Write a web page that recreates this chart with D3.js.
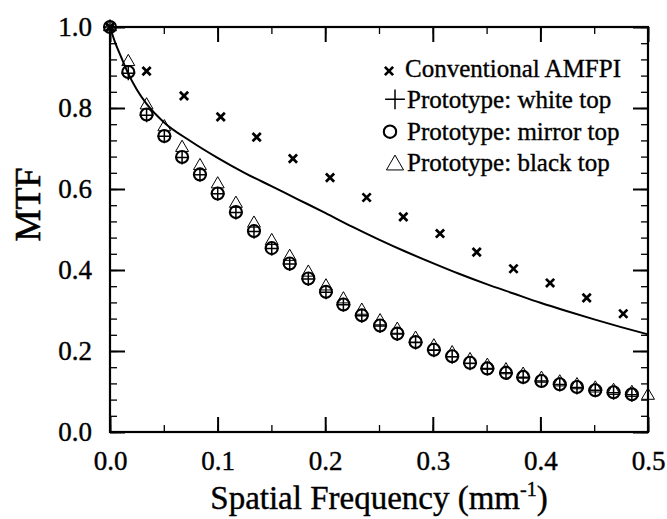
<!DOCTYPE html>
<html>
<head>
<meta charset="utf-8">
<script src="https://cdn.jsdelivr.net/npm/d3@7.9.0/dist/d3.min.js"></script>
<style>
  html, body { margin: 0; padding: 0; background: #fff; }
  svg { display: block; }
  svg text { font-family: "Liberation Serif", "DejaVu Serif", serif; }
</style>
</head>
<body>
<svg id="chart" width="667" height="519"></svg>
<script>
// conventional AMFPI (x markers)
const convFreq = [0, 0.034, 0.0688, 0.1029, 0.1363, 0.170, 0.2045, 0.2385, 0.2726, 0.3067, 0.3408, 0.375, 0.409, 0.443, 0.477];
const convMTF  = [1.0, 0.891, 0.830, 0.778, 0.728, 0.675, 0.628, 0.579, 0.531, 0.490, 0.444, 0.403, 0.368, 0.331, 0.292];

// prototype measurements share one frequency grid (black top has one more point at 0.5)
const protoFreq = [0, 0.017, 0.034, 0.0505, 0.067, 0.0836, 0.1001, 0.117, 0.1338, 0.1503,
                   0.167, 0.1843, 0.2007, 0.2169, 0.234, 0.251, 0.267, 0.284, 0.301, 0.318,
                   0.3346, 0.3507, 0.368, 0.384, 0.401, 0.418, 0.434, 0.451, 0.468, 0.485, 0.5];
const whiteMTF  = [1.0, 0.886, 0.782, 0.730, 0.678, 0.635, 0.588, 0.542, 0.495, 0.453,
                   0.415, 0.378, 0.345, 0.314, 0.287, 0.262, 0.242, 0.221, 0.202, 0.186,
                   0.170, 0.157, 0.146, 0.135, 0.126, 0.117, 0.110, 0.103, 0.097, 0.092];
const mirrorMTF = [1.0, 0.889, 0.784, 0.731, 0.679, 0.636, 0.589, 0.543, 0.496, 0.454,
                   0.416, 0.379, 0.346, 0.315, 0.288, 0.263, 0.243, 0.222, 0.203, 0.187,
                   0.171, 0.157, 0.146, 0.136, 0.126, 0.118, 0.111, 0.103, 0.098, 0.093];
const blackMTF  = [1.0, 0.914, 0.807, 0.753, 0.702, 0.657, 0.612, 0.564, 0.515, 0.472,
                   0.433, 0.394, 0.360, 0.328, 0.300, 0.274, 0.253, 0.231, 0.212, 0.195,
                   0.178, 0.164, 0.153, 0.142, 0.132, 0.123, 0.116, 0.108, 0.102, 0.097, 0.090];

// solid curve
const curveFreq = [0, 0.005, 0.01, 0.017, 0.025, 0.034, 0.05, 0.075, 0.1, 0.125, 0.15, 0.175, 0.2,
                   0.225, 0.25, 0.275, 0.3, 0.325, 0.35, 0.375, 0.4, 0.425, 0.45, 0.475, 0.5];
const curveMTF  = [1.0, 0.96, 0.928, 0.885, 0.845, 0.81, 0.765, 0.718, 0.677, 0.640, 0.607, 0.574, 0.541,
                   0.507, 0.475, 0.445, 0.417, 0.39, 0.365, 0.342, 0.319, 0.298, 0.278, 0.259, 0.241];

const xTicks = [0, 0.1, 0.2, 0.3, 0.4, 0.5];
const yTicks = [0, 0.2, 0.4, 0.6, 0.8, 1.0];
const legendLabels = ['Conventional AMFPI', 'Prototype: white top', 'Prototype: mirror top', 'Prototype: black top'];

const W = 667, H = 519;
const margin = { top: 27, right: 19, bottom: 87, left: 110 };
const serif = '"Liberation Serif", "DejaVu Serif", serif';
const svg = d3.select('#chart');

const x = d3.scaleLinear().domain([0, 0.5]).range([margin.left, W - margin.right]);
const y = d3.scaleLinear().domain([0, 1]).range([H - margin.bottom, margin.top]);

const fmt = d3.format('.1f');
const xMinor = d3.range(0, 0.5001, 0.05);
const yMinor = d3.range(0, 1.0001, 0.04);

// text in the original is a bit heavier than plain Liberation Serif
function heavy(sel, w) {
  return sel.attr('stroke', '#000').attr('stroke-width', w).attr('paint-order', 'stroke');
}

function styleAxis(g) {
  g.attr('font-family', serif).attr('font-size', 27);
  g.select('.domain').remove();
  g.selectAll('.tick line').attr('stroke', '#000').attr('stroke-width', 2);
  g.selectAll('.tick text')
    .attr('fill', '#000')
    .attr('font-size', 27)
    .call(heavy, 0.4);
}

// minor ticks, all four sides
svg.append('g').attr('transform', `translate(0,${y(0)})`)
  .call(d3.axisBottom(x).tickValues(xMinor).tickSize(-7).tickFormat(''))
  .call(styleAxis).selectAll('.tick line').attr('stroke-width', 1.3);
svg.append('g').attr('transform', `translate(0,${y(1)})`)
  .call(d3.axisTop(x).tickValues(xMinor).tickSize(-7).tickFormat(''))
  .call(styleAxis).selectAll('.tick line').attr('stroke-width', 1.3);
svg.append('g').attr('transform', `translate(${x(0)},0)`)
  .call(d3.axisLeft(y).tickValues(yMinor).tickSize(-7).tickFormat(''))
  .call(styleAxis).selectAll('.tick line').attr('stroke-width', 1.3);
svg.append('g').attr('transform', `translate(${x(0.5)},0)`)
  .call(d3.axisRight(y).tickValues(yMinor).tickSize(-7).tickFormat(''))
  .call(styleAxis).selectAll('.tick line').attr('stroke-width', 1.3);

// major ticks + labels
svg.append('g').attr('transform', `translate(0,${y(0)})`)
  .call(d3.axisBottom(x).tickValues(xTicks).tickSize(-15).tickPadding(19).tickFormat(fmt))
  .call(styleAxis);
svg.append('g').attr('transform', `translate(0,${y(1)})`)
  .call(d3.axisTop(x).tickValues(xTicks).tickSize(-15).tickFormat(''))
  .call(styleAxis);
svg.append('g').attr('transform', `translate(${x(0)},0)`)
  .call(d3.axisLeft(y).tickValues(yTicks).tickSize(-15).tickPadding(18).tickFormat(fmt))
  .call(styleAxis);
svg.append('g').attr('transform', `translate(${x(0.5)},0)`)
  .call(d3.axisRight(y).tickValues(yTicks).tickSize(-15).tickFormat(''))
  .call(styleAxis);

// frame
svg.append('rect')
  .attr('x', x(0)).attr('y', y(1))
  .attr('width', x(0.5) - x(0)).attr('height', y(0) - y(1))
  .attr('fill', 'none').attr('stroke', '#000').attr('stroke-width', 2.2);

// curve
const line = d3.line().curve(d3.curveMonotoneX).x((d, i) => x(curveFreq[i])).y(d => y(d));
svg.append('path').datum(curveMTF)
  .attr('d', line)
  .attr('fill', 'none').attr('stroke', '#000').attr('stroke-width', 2);

const sym = {
  times:    { gen: d3.symbol(d3.symbolTimes, 46),   sw: 2.7 },
  plus:     { gen: d3.symbol(d3.symbolPlus, 66),    sw: 1.5 },
  circle:   { gen: d3.symbol(d3.symbolCircle, 113), sw: 2.1 },
  triangle: { gen: d3.symbol(d3.symbolTriangle2, 120), sw: 1 }
};

function drawSeries(freq, vals, s) {
  svg.append('g').selectAll('path')
    .data(vals)
    .join('path')
      .attr('transform', (d, i) => `translate(${x(freq[i])},${y(d)})`)
      .attr('d', s.gen())
      .attr('fill', 'none')
      .attr('stroke', '#000')
      .attr('stroke-width', s.sw);
}

drawSeries(protoFreq, blackMTF, sym.triangle);
drawSeries(protoFreq, mirrorMTF, sym.circle);
drawSeries(protoFreq, whiteMTF, sym.plus);
drawSeries(convFreq, convMTF, sym.times);

// legend
const legendSyms = [
  { s: sym.times, gen: d3.symbol(d3.symbolTimes, 46), dx: 389, dy: -6 },
  { s: sym.plus, gen: d3.symbol(d3.symbolPlus, 130), dx: 395, dy: -9 },
  { s: sym.circle, gen: d3.symbol(d3.symbolCircle, 120), dx: 390, dy: -8 },
  { s: sym.triangle, gen: d3.symbol(d3.symbolTriangle2, 210), dx: 395, dy: -6 }
];
const legendY = d3.scaleLinear().domain([0, 3]).range([77, 171]);
const lg = svg.append('g');
legendLabels.forEach((lab, i) => {
  const m = legendSyms[i];
  lg.append('path')
    .attr('transform', `translate(${m.dx},${legendY(i) + m.dy})`)
    .attr('d', m.gen())
    .attr('fill', 'none').attr('stroke', '#000').attr('stroke-width', m.s.sw);
  lg.append('text')
    .attr('x', i === 0 ? 405 : 407).attr('y', legendY(i))
    .attr('font-family', serif)
    .attr('font-size', 25)
    .text(lab)
    .call(heavy, 0.35);
});

// axis titles
const xt = svg.append('text')
  .attr('x', (x(0) + x(0.5)) / 2).attr('y', 509)
  .attr('font-family', serif)
  .attr('text-anchor', 'middle').attr('font-size', 33)
  .call(heavy, 0.4);
xt.append('tspan').text('Spatial Frequency (mm');
xt.append('tspan').attr('font-size', 20).attr('dy', -13).text('-1');
xt.append('tspan').attr('dy', 13).text(')');

svg.append('text')
  .attr('transform', `translate(40,${(y(0) + y(1)) / 2 - 25}) rotate(-90)`)
  .attr('font-family', serif)
  .attr('text-anchor', 'middle')
  .attr('font-size', 36)
  .text('MTF')
  .call(heavy, 0.6);
</script>
</body>
</html>
